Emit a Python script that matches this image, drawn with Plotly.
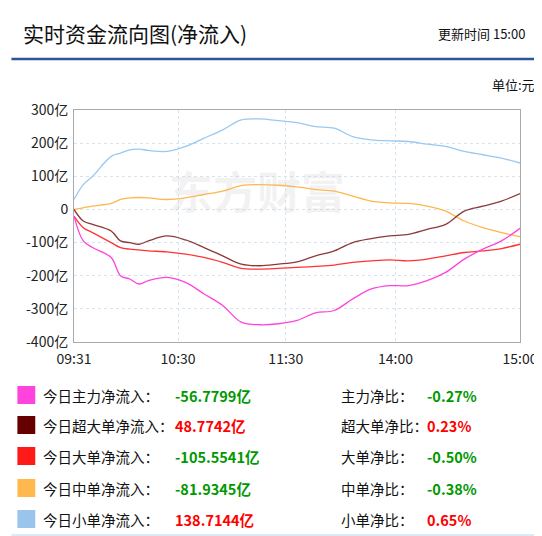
import plotly.graph_objects as go

W, H = 542, 536
L, R, T, B = 66, 515, 102, 334  # plot area in pixels

# minutes since 09:30 in trading time (0..240)
minutes = [0, 5, 10, 20, 25, 30, 35, 40, 50, 60, 70, 80, 90, 100, 110, 120,
           130, 140, 150, 160, 170, 180, 190, 200, 210, 220, 230, 240]
main_flow = [-20, -95, -115, -145, -200, -210, -225, -215, -205, -220, -255, -290, -340, -348,
             -345, -335, -312, -305, -270, -240, -230, -230, -215, -190, -150, -120, -95, -57]
super_flow = [0, -35, -45, -65, -95, -100, -105, -95, -80, -92, -115, -140, -165, -170,
              -165, -158, -140, -125, -100, -88, -80, -75, -60, -45, -5, 10, 25, 48]
large_flow = [-20, -55, -70, -100, -115, -120, -122, -125, -128, -135, -145, -160, -178, -180,
              -178, -175, -172, -168, -160, -155, -152, -155, -150, -140, -130, -125, -118, -105]
medium_flow = [0, 5, 10, 18, 30, 35, 36, 35, 30, 35, 45, 55, 72, 75,
               73, 68, 60, 55, 40, 25, 20, 18, 10, -5, -35, -55, -70, -82]
small_flow = [30, 75, 100, 160, 170, 180, 182, 178, 175, 190, 215, 240, 270, 273,
              268, 262, 250, 245, 220, 210, 207, 205, 197, 190, 175, 165, 155, 140]

tick_pos = [0, 56, 114, 173, 240]
tick_text = ["09:31", "10:30", "11:30", "14:00", "15:00"]
y_ticks = [300, 200, 100, 0, -100, -200, -300, -400]
y_text = ["300亿", "200亿", "100亿", "0", "-100亿", "-200亿", "-300亿", "-400亿"]

names = ["今日主力净流入：", "今日超大单净流入：", "今日大单净流入：", "今日中单净流入：", "今日小单净流入："]
values = ["-56.7799亿", "48.7742亿", "-105.5541亿", "-81.9345亿", "138.7144亿"]
ratio_names = ["主力净比：", "超大单净比：", "大单净比：", "中单净比：", "小单净比："]
ratios = ["-0.27%", "0.23%", "-0.50%", "-0.38%", "0.65%"]
line_colors = ["#ff44dd", "#8b3a3a", "#ff3333", "#ffb74d", "#99c8f0"]
box_colors = ["#ff44dd", "#660000", "#ff1a1a", "#ffb84d", "#99c4ec"]

font = "Noto Sans CJK SC"


def px(x):
    return (x - L) / (R - L)


def py(y):
    return (B - y) / (B - T)


fig = go.Figure()
for ser, c in zip([small_flow, medium_flow, super_flow, large_flow, main_flow],
                  [line_colors[4], line_colors[3], line_colors[1], line_colors[2], line_colors[0]]):
    fig.add_trace(go.Scatter(x=minutes, y=ser, mode="lines", line=dict(color=c, width=1.3, shape="spline"),
                             hoverinfo="skip"))

ann = []
shapes = []
# header
ann.append(dict(x=px(13), y=py(25), text="实时资金流向图(净流入)", font=dict(size=21, color="#111")))
ann.append(dict(x=px(522), y=py(26), text="更新时间 15:00", font=dict(size=13, color="#111"), xanchor="right"))
ann.append(dict(x=px(532), y=py(77), text="单位:元", font=dict(size=13, color="#111"), xanchor="right"))
shapes.append(dict(type="line", xref="paper", yref="paper", x0=px(3), x1=px(538), y0=py(51), y1=py(51),
                   line=dict(color="#2e5596", width=2.5)))
# watermark
ann.append(dict(x=px(160), y=py(182), text="<b>东方财富</b>", font=dict(size=44, color="rgba(200,200,200,0.22)")))
# legend rows
rows_y = [387, 417, 448, 480, 511]
for i in range(5):
    y = rows_y[i]
    shapes.append(dict(type="rect", xref="paper", yref="paper", x0=px(9), x1=px(27), y0=py(y - 9), y1=py(y + 9),
                       fillcolor=box_colors[i], line=dict(width=0)))
    vc = "#009900" if values[i].startswith("-") else "#ff0000"
    rc = "#009900" if ratios[i].startswith("-") else "#ff0000"
    ann.append(dict(x=px(33), y=py(y), text=names[i], font=dict(size=14.5, color="#111")))
    ann.append(dict(x=px(166), y=py(y), text="<b>" + values[i] + "</b>", font=dict(size=14.5, color=vc)))
    ann.append(dict(x=px(333), y=py(y), text=ratio_names[i], font=dict(size=14.5, color="#111")))
    ann.append(dict(x=px(419), y=py(y), text="<b>" + ratios[i] + "</b>", font=dict(size=14.5, color=rc)))
shapes.append(dict(type="line", xref="paper", yref="paper", x0=px(3), x1=px(538), y0=py(527), y1=py(527),
                   line=dict(color="#b8d4ec", width=1)))

for a in ann:
    a.setdefault("xanchor", "left")
    a.update(xref="paper", yref="paper", yanchor="middle", showarrow=False)
    a["font"]["family"] = font

fig.update_layout(
    width=W, height=H, showlegend=False,
    margin=dict(l=L, r=W - R, t=T, b=H - B),
    paper_bgcolor="white", plot_bgcolor="white",
    font=dict(family=font, size=13, color="#222"),
    annotations=ann, shapes=shapes,
    xaxis=dict(range=[0, 240], tickvals=tick_pos, ticktext=tick_text, showgrid=True,
               gridcolor="#d6e4f2", griddash="dot", zeroline=False, showline=True, linecolor="#aaa",
               mirror=True, tickfont=dict(size=14), ticks="", ticklabelstandoff=4),
    yaxis=dict(range=[-400, 300], tickvals=y_ticks, ticktext=y_text, showgrid=True,
               gridcolor="#d6e4f2", griddash="dot", zeroline=False, showline=True, linecolor="#aaa",
               mirror=True, tickfont=dict(size=14), ticks="", ticklabelstandoff=2),
)

fig.write_html("out.html")
